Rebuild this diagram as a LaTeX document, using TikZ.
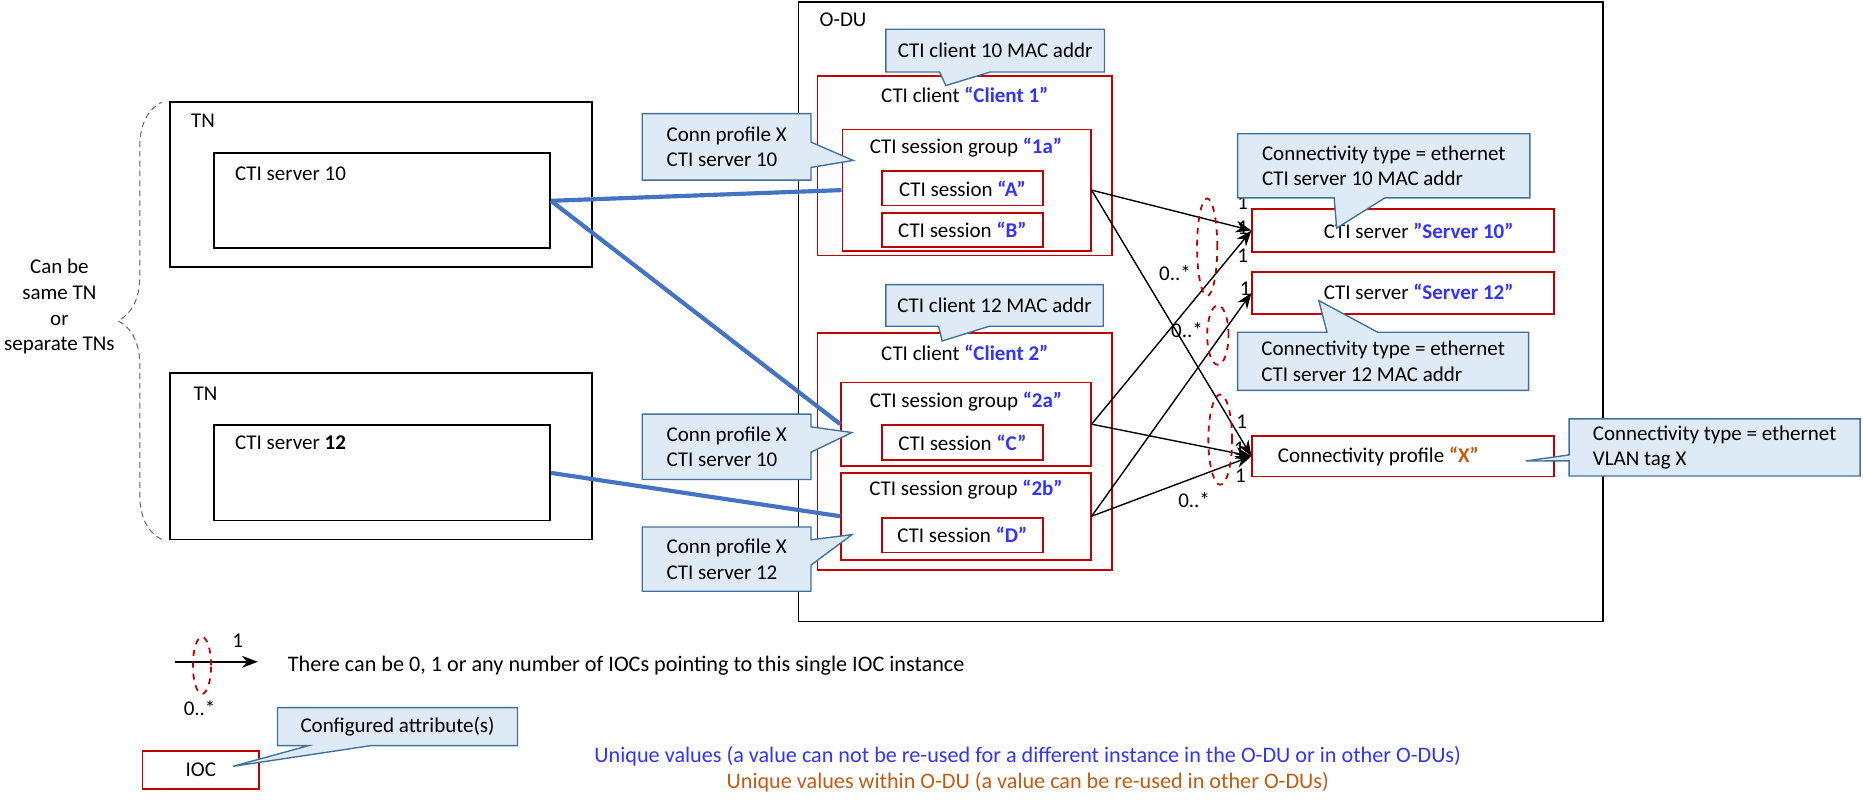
\documentclass[tikz,border=0pt]{standalone}
\usepackage{fontspec}
\setmainfont{Carlito}
\usetikzlibrary{shapes.callouts,fit,arrows.meta,decorations.pathreplacing}

\definecolor{boxred}{RGB}{192,0,0}
\definecolor{notefill}{RGB}{222,235,247}
\definecolor{noteedge}{RGB}{65,113,156}
\definecolor{linkblue}{RGB}{68,114,196}
\definecolor{idblue}{RGB}{51,51,255}
\definecolor{idorange}{RGB}{197,90,17}

\newcommand{\uid}[1]{\textcolor{idblue}{\textbf{#1}}}
\newcommand{\lid}[1]{\textcolor{idorange}{\textbf{#1}}}

\begin{document}
\begin{tikzpicture}[x=0.6pt,y=-0.6pt,
  every node/.style={font=\fontsize{10.6}{13}\selectfont},
  blkbox/.style={draw, line width=0.9pt, inner sep=0pt},
  redbox/.style={draw=boxred, line width=0.9pt, inner sep=0pt},
  note/.style={rectangle callout, draw=noteedge, fill=notefill, line width=0.7pt,
    align=left, anchor=north west, inner sep=0pt, callout pointer width=0.9cm},
  link/.style={linkblue, line width=2.1pt},
  ref/.style={-{Stealth[length=8pt,width=6pt]}, line width=0.7pt},
  mult/.style={boxred, dashed, line width=0.9pt},
  legendtext/.style={font=\fontsize{11.2}{13}\selectfont}]

\useasboundingbox (0,0) rectangle (1568,673);

% transport nodes
\node [blkbox, fit={(143,86)(498,225)}] (tn1) {};
\node [anchor=west] (tn1lbl) at (155,102) {TN};
\node [blkbox, fit={(180,129)(463,209)}] (cs10) {};
\node [anchor=west] (cs10lbl) at (192,146) {CTI server 10};

\node [blkbox, fit={(143,314)(498,454)}] (tn2) {};
\node [anchor=west] (tn2lbl) at (157,331) {TN};
\node [blkbox, fit={(180,358)(463,438)}] (cs12) {};
\node [anchor=west] (cs12lbl) at (192,373) {CTI server \textbf{12}};

\draw [gray!80!black, densely dashed, line width=0.5pt, decorate,
       decoration={brace, amplitude=22pt}] (136,454) -- (136,86);
\node [align=center] (tnnote) at (50,258) {Can be\\same TN\\or\\separate TNs};

% the O-DU
\node [blkbox, fit={(672,2)(1349,523)}] (odu) {};
\node [anchor=west] (odulbl) at (684,17) {O-DU};

\node [redbox, fit={(688,64)(936,215)}] (client1) {};
\node (client1lbl) at (812,80) {CTI client \uid{“Client 1”}};
\node [redbox, fit={(709,109)(918,211)}] (sg1a) {};
\node (sg1albl) at (813,124) {CTI session group \uid{“1a”}};
\node [redbox, fit={(742,144)(878,173)}] (sessA) {};
\node (sessAlbl) at (sessA) {CTI session \uid{“A”}};
\node [redbox, fit={(742,179)(878,208)}] (sessB) {};
\node (sessBlbl) at (sessB) {CTI session \uid{“B”}};

\node [redbox, fit={(688,280)(936,480)}] (client2) {};
\node (client2lbl) at (812,297) {CTI client \uid{“Client 2”}};
\node [redbox, fit={(708,322)(918,392)}] (sg2a) {};
\node (sg2albl) at (813,338) {CTI session group \uid{“2a”}};
\node [redbox, fit={(742,358)(878,387)}] (sessC) {};
\node (sessClbl) at (sessC) {CTI session \uid{“C”}};
\node [redbox, fit={(708,398)(918,471)}] (sg2b) {};
\node (sg2blbl) at (813,412) {CTI session group \uid{“2b”}};
\node [redbox, fit={(742,436)(878,465)}] (sessD) {};
\node (sessDlbl) at (sessD) {CTI session \uid{“D”}};

\node [redbox, fit={(1054,176)(1308,212)}] (srv10) {};
\node (srv10lbl) at (1194,194) {CTI server \uid{”Server 10”}};
\node [redbox, fit={(1054,229)(1308,264)}] (srv12) {};
\node (srv12lbl) at (1194,246) {CTI server \uid{“Server 12”}};
\node [redbox, fit={(1054,367)(1308,401)}] (connprof) {};
\node (connproflbl) at (1160,384) {Connectivity profile \lid{“X”}};

% links to the transport side
\draw [link] (cs10.east) -- (sg1a.west);
\draw [link] (cs10.east) -- (sg2a.west);
\draw [link] (cs12.east) -- (sg2b.west);

% references
\draw [ref] (sg1a.east) -- (srv10.west);
\draw [ref] (sg1a.east) -- (connprof.west);
\draw [ref] (sg2a.east) -- (srv10.west);
\draw [ref] (sg2a.east) -- (connprof.west);
\draw [ref] (sg2b.east) -- (srv12.west);
\draw [ref] (sg2b.east) -- (connprof.west);

\draw [mult] (1016,208) ellipse [x radius=5.1pt, y radius=24.6pt];
\draw [mult] (1025,282) ellipse [x radius=5.4pt, y radius=15pt];
\draw [mult] (1027,370) ellipse [x radius=6pt, y radius=22.8pt];

\node (m1) at (1046,171) {1};
\node (m2) at (1046,192) {1};
\node (m3) at (1046,215) {1};
\node (m4) at (1048,243) {1};
\node (m5) at (1045,355) {1};
\node (m6) at (1043,378) {1};
\node (m7) at (1044,400) {1};
\node (z1) at (989,230) {0..*};
\node (z2) at (999,278) {0..*};
\node (z3) at (1005,421) {0..*};

% callouts
\node [note, minimum width=110.4pt, minimum height=21.6pt,
       callout absolute pointer={(796,72)}] (mac10) at (745,24) {CTI client 10 MAC addr};
\node [note, minimum width=109.8pt, minimum height=21pt,
       callout absolute pointer={(793,287)}] (mac12) at (745,239) {CTI client 12 MAC addr};
\node [note, minimum width=85.2pt, minimum height=33.6pt, callout pointer width=0.45cm,
       callout absolute pointer={(718,135)}] (cp1) at (540,95) {Conn profile X\\CTI server 10};
\node [note, minimum width=85.2pt, minimum height=33pt, callout pointer width=0.45cm,
       callout absolute pointer={(717,364)}] (cp2) at (540,348) {Conn profile X\\CTI server 10};
\node [note, minimum width=85.2pt, minimum height=32.4pt, callout pointer width=0.45cm,
       callout absolute pointer={(717,450)}] (cp3) at (540,443) {Conn profile X\\CTI server 12};
\node [note, minimum width=147.6pt, minimum height=32.4pt,
       callout absolute pointer={(1125,192)}] (eth10) at (1041,112) {Connectivity type = ethernet\\CTI server 10 MAC addr};
\node [note, minimum width=147pt, minimum height=29.4pt,
       callout absolute pointer={(1110,253)}] (eth12) at (1041,279) {Connectivity type = ethernet\\CTI server 12 MAC addr};
\node [note, minimum width=147pt, minimum height=28.8pt, callout pointer width=3pt,
       callout absolute pointer={(1284,388)}] (vlan) at (1320,352) {Connectivity type = ethernet\\VLAN tag X};

% legend
\coordinate (lgA) at (147,557);
\coordinate (lgB) at (217,557);
\draw [ref] (lgA) -- (lgB);
\draw [mult] (170,560) ellipse [x radius=4.6pt, y radius=14.4pt];
\node (lg1) at (200,539) {1};
\node (lgz) at (168,596) {0..*};
\node [legendtext, anchor=west, inner sep=0pt] (lgtxt) at (242,560) {There can be 0, 1 or any number of IOCs pointing to this single IOC instance};

\node [redbox, fit={(120,632)(218,664)}] (ioc) {};
\node (ioclbl) at (169,648) {IOC};
\node [note, minimum width=121.2pt, minimum height=19.2pt, callout pointer width=1.1cm,
       callout absolute pointer={(196,645)}] (cfg) at (233,595) {Configured attribute(s)};

\node [legendtext, text=idblue] (uniq1) at (865,636) {Unique values (a value can not be re-used for a different instance in the O-DU or in other O-DUs)};
\node [legendtext, text=idorange] (uniq2) at (865,658) {Unique values within O-DU (a value can be re-used in other O-DUs)};

\end{tikzpicture}
\end{document}
